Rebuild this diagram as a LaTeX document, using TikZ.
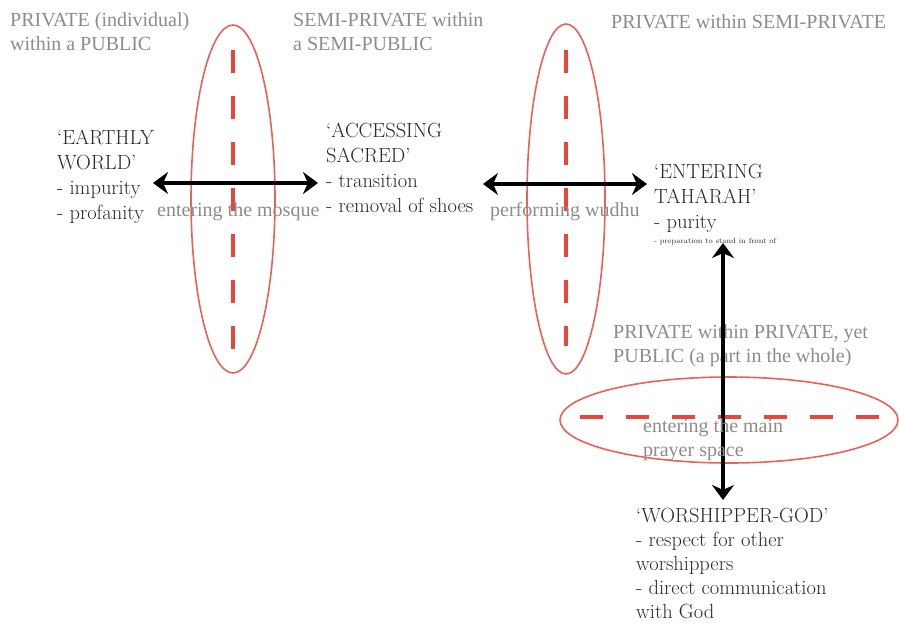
\documentclass[tikz,border=0pt]{standalone}
\usepackage{fontspec}
\newfontfamily\timesfont{Liberation Serif}
\usetikzlibrary{arrows.meta,positioning}
\definecolor{zonered}{HTML}{E8453C}
\definecolor{labelgray}{HTML}{8C8C8C}
\definecolor{inkdark}{HTML}{2A2A2A}

\begin{document}
\begin{tikzpicture}[x=1pt,y=-1pt,
  zone/.style={draw=zonered!85,line width=1.6pt},
  cut/.style={draw=zonered,line width=4pt,dash pattern=on 23pt off 23pt},
  move/.style={<->,>={Stealth[length=15pt,width=22pt]},line width=4pt,black},
  space/.style={font=\timesfont\fontsize{20}{24}\selectfont,text=labelgray,align=left,inner sep=0pt},
  realm/.style={font=\fontsize{20.5}{25}\selectfont,text=inkdark,align=left,inner sep=0pt,anchor=north west}]
  \useasboundingbox[fill=white] (0,0) rectangle (899,629);

  % thresholds
  \draw[zone] (233,199) ellipse [x radius=42pt, y radius=174pt];
  \draw[zone] (566,199) ellipse [x radius=39pt, y radius=175pt];
  \draw[zone] (729,420) ellipse [x radius=169pt, y radius=43pt];
  \draw[cut] (233,50) -- (233,356);
  \draw[cut] (566,50) -- (566,346);
  \draw[cut] (580,417) -- (880,417);

  % what kind of space
  \node[space,anchor=north west] (public)  at (10,12)  {PRIVATE (individual)\\within a PUBLIC};
  \node[space,anchor=north west] (semi)    at (293,12) {SEMI-PRIVATE within\\a SEMI-PUBLIC};
  \node[space,anchor=north west] (inner)   at (611,14) {PRIVATE within SEMI-PRIVATE};
  \node[space,anchor=north west] (whole)   at (613,324) {PRIVATE within PRIVATE, yet\\PUBLIC (a part in the whole)};

  % stages
  \node[realm] (earthly) at (57,130)  {`EARTHLY\\WORLD'\\- impurity\\- profanity};
  \node[realm] (sacred)  at (326,123) {`ACCESSING\\SACRED'\\- transition\\- removal of shoes};
  \node[realm] (taharah) at (654,164) {`ENTERING\\TAHARAH'\\- purity};
  \node[font=\fontsize{7.4}{8}\selectfont,text=inkdark,inner sep=0pt,anchor=north west] (stand) at (654,238) {- preparation to stand in front of};
  \node[realm,font=\fontsize{20.5}{24}\selectfont] (god) at (636,508) {`WORSHIPPER-GOD'\\- respect for other\\worshippers\\- direct communication\\with God};

  % movements
  \coordinate (mosque out) at (153,183);
  \coordinate (mosque in)  at (318,183);
  \coordinate (wudhu out)  at (483,184);
  \coordinate (wudhu in)   at (647,184);
  \coordinate (prayer out) at (723,243);
  \coordinate (prayer in)  at (723,500);
  \draw[move] (mosque out) -- (mosque in);
  \draw[move] (wudhu out) -- (wudhu in);
  \draw[move] (prayer out) -- (prayer in);

  \node[space,anchor=base west] (enter)  at (157,216) {entering the mosque};
  \node[space,anchor=base west] (wudhu)  at (490,216) {performing wudhu};
  \node[space,anchor=north west] (main) at (643,418) {entering the main\\prayer space};
\end{tikzpicture}
\end{document}
